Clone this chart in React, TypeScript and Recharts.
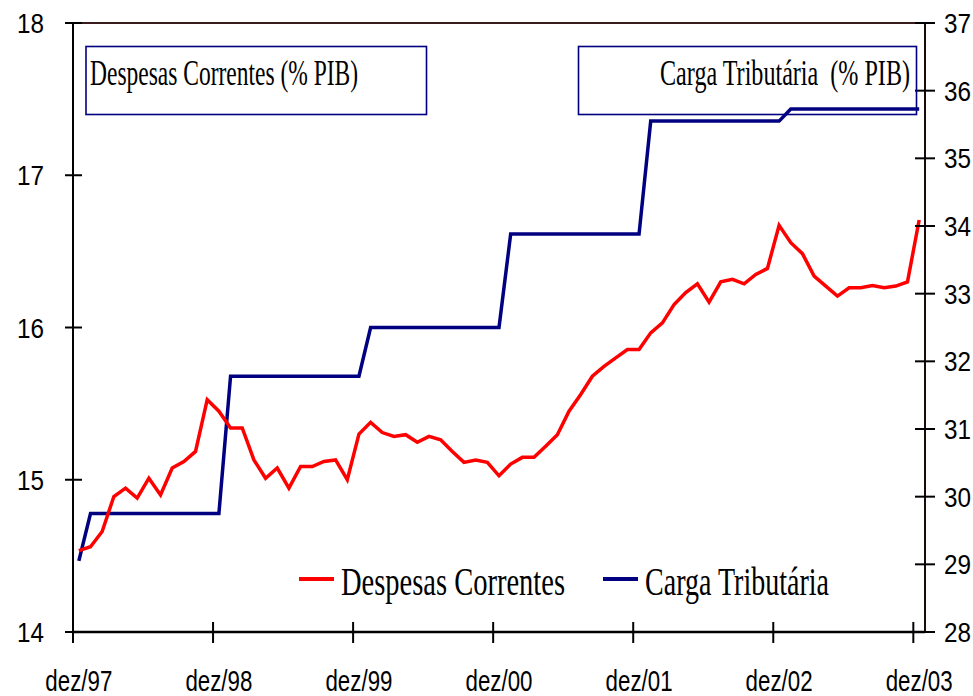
import React from 'react';
import { LineChart, Line, XAxis, YAxis, Legend, ReferenceLine } from 'recharts';

// ---- data ----
const xTickLabels = ['dez/97', 'dez/98', 'dez/99', 'dez/00', 'dez/01', 'dez/02', 'dez/03'];

const despesasCorrentes = [
  14.535, 14.56, 14.66, 14.89, 14.945, 14.88, 15.01, 14.9, 15.077, 15.12, 15.186, 15.526,
  15.45, 15.34, 15.34, 15.13, 15.01, 15.077, 14.945, 15.087, 15.087, 15.12, 15.13, 15.0,
  15.3, 15.377, 15.31, 15.285, 15.296, 15.246, 15.285, 15.263, 15.186, 15.114, 15.13, 15.114,
  15.026, 15.103, 15.147, 15.147, 15.22, 15.296, 15.45, 15.56, 15.68, 15.745, 15.8, 15.855,
  15.855, 15.965, 16.03, 16.15, 16.23, 16.287, 16.166, 16.3, 16.316, 16.287, 16.349, 16.388,
  16.671, 16.557, 16.485, 16.338, 16.272, 16.206, 16.261, 16.261, 16.276, 16.261, 16.272, 16.3,
  16.706,
];

const cargaTributaria = [
  29.05, 29.75, 29.75, 29.75, 29.75, 29.75, 29.75, 29.75, 29.75, 29.75, 29.75, 29.75,
  29.75, 31.78, 31.78, 31.78, 31.78, 31.78, 31.78, 31.78, 31.78, 31.78, 31.78, 31.78,
  31.78, 32.5, 32.5, 32.5, 32.5, 32.5, 32.5, 32.5, 32.5, 32.5, 32.5, 32.5,
  32.5, 33.88, 33.88, 33.88, 33.88, 33.88, 33.88, 33.88, 33.88, 33.88, 33.88, 33.88,
  33.88, 35.55, 35.55, 35.55, 35.55, 35.55, 35.55, 35.55, 35.55, 35.55, 35.55, 35.55,
  35.55, 35.73, 35.73, 35.73, 35.73, 35.73, 35.73, 35.73, 35.73, 35.73, 35.73, 35.73,
  35.73,
];

const leftTicks = [14, 15, 16, 17, 18];
const rightTicks = [28, 29, 30, 31, 32, 33, 34, 35, 36, 37];
const seriesNames = ['Despesas Correntes', 'Carga Tributária'];
const boxTitles = ['Despesas Correntes (% PIB)', 'Carga Tributária  (% PIB)'];

const data = despesasCorrentes.map((v, i) => ({ i, desp: v, carga: cargaTributaria[i] }));
const N = data.length;
const xTickValues = xTickLabels.map((_, k) => k * 12 - 0.5);

// ---- layout ----
const W = 973;
const H = 696;
const LEFT_W = 73;
const RIGHT_W = 48;
const TOP = 23;
const X_H = 64;
const PLOT_W = W - LEFT_W - RIGHT_W;
const HALF_BAND = PLOT_W / N / 2;
const SANS = '"Liberation Sans", Arial, sans-serif';
const SERIF = '"Liberation Serif", "Times New Roman", serif';
const RED = '#ff0000';
const NAVY = '#000080';

// Text squeezed horizontally (the reference uses narrow, tall glyphs)
const NarrowText = (p: any) => {
  const { x, y, sx, len, anchor = 'start', family, size, children, preserve } = p;
  return (
    <text transform={`translate(${x},${y}) scale(${sx},1)`} x={0} y={0} textAnchor={anchor}
      fontFamily={family} fontSize={size} fill="#000" textLength={len / sx}
      lengthAdjust="spacingAndGlyphs" {...(preserve ? { xmlSpace: 'preserve' } : {})}>
      {children}
    </text>
  );
};

const LeftTick = (props: any) => {
  const { x, y, payload } = props;
  return (
    <g>
      <line x1={x - 8} x2={x + 9} y1={y} y2={y} stroke="#000" strokeWidth={2} />
      <NarrowText x={x - 29} y={y + 10} anchor="end" sx={0.87} len={27} family={SANS} size={28}>
        {String(payload.value)}
      </NarrowText>
    </g>
  );
};

const RightTick = (props: any) => {
  const { x, y, payload } = props;
  return (
    <g>
      <line x1={x - 10} x2={x + 10} y1={y} y2={y} stroke="#000" strokeWidth={2} />
      <NarrowText x={x + 19} y={y + 10} anchor="start" sx={0.87} len={27} family={SANS} size={28}>
        {String(payload.value)}
      </NarrowText>
    </g>
  );
};

const BottomTick = (props: any) => {
  const { x, y, index } = props;
  return (
    <g>
      <line x1={x} x2={x} y1={y - 10} y2={y + 11} stroke="#000" strokeWidth={2} />
      <NarrowText x={x + HALF_BAND} y={y + 59} anchor="middle" sx={0.77} len={67} family={SANS} size={29}>
        {xTickLabels[index]}
      </NarrowText>
    </g>
  );
};

const legendLayout = [
  { lineX: 299, textX: 341, textLen: 224, sx: 0.713 },
  { lineX: 603, textX: 645, textLen: 184, sx: 0.693 },
];

const renderLegend = (props: any) => {
  const payload = props.payload || [];
  return (
    <svg width={W} height={60} style={{ display: 'block' }}>
      {payload.map((p: any, k: number) => {
        const l = legendLayout[k] || legendLayout[0];
        return (
          <g key={k}>
            <line x1={l.lineX} x2={l.lineX + 35} y1={29} y2={29} stroke={p.color} strokeWidth={4} />
            <NarrowText x={l.textX} y={45} sx={l.sx} len={l.textLen} family={SERIF} size={40}>
              {p.value}
            </NarrowText>
          </g>
        );
      })}
    </svg>
  );
};

export default function App() {
  return (
    <div style={{ position: 'absolute', left: 0, top: 0, width: W, height: H, background: '#fff', overflow: 'hidden' }}>
      <LineChart width={W} height={H} data={data} margin={{ top: TOP, right: 0, bottom: 0, left: 0 }}>
        <XAxis dataKey="i" type="number" domain={[-0.5, N - 0.5]} ticks={xTickValues} interval={0}
          height={X_H} tickSize={0} tickMargin={0} tickLine={false}
          axisLine={{ stroke: '#000', strokeWidth: 2.5 }} tick={<BottomTick />} />
        <YAxis yAxisId="left" orientation="left" domain={[14, 18]} ticks={leftTicks} interval={0}
          width={LEFT_W} tickSize={0} tickMargin={0} tickLine={false}
          axisLine={{ stroke: '#000', strokeWidth: 2 }} tick={<LeftTick />} />
        <YAxis yAxisId="right" orientation="right" domain={[28, 37]} ticks={rightTicks} interval={0}
          width={RIGHT_W} tickSize={0} tickMargin={0} tickLine={false}
          axisLine={{ stroke: '#1a0a0a', strokeWidth: 2 }} tick={<RightTick />} />
        <ReferenceLine yAxisId="left" y={18} stroke="#3a1c1c" strokeWidth={2} />
        <Line yAxisId="right" type="linear" dataKey="carga" name={seriesNames[1]} stroke={NAVY}
          strokeWidth={3.5} dot={false} activeDot={false} isAnimationActive={false} />
        <Line yAxisId="left" type="linear" dataKey="desp" name={seriesNames[0]} stroke={RED}
          strokeWidth={3.5} dot={false} activeDot={false} isAnimationActive={false} />
        <Legend verticalAlign="middle" align="center" layout="horizontal"
          wrapperStyle={{ left: 0, top: 550, width: W, height: 60 }}
          content={(p: any) => renderLegend({ payload: [...(p.payload || [])].sort((a: any, b: any) => seriesNames.indexOf(a.value) - seriesNames.indexOf(b.value)) })} />
      </LineChart>
      <svg width={W} height={H} style={{ position: 'absolute', left: 0, top: 0, pointerEvents: 'none' }}>
        <rect x={86} y={46.5} width={340.5} height={68} fill="none" stroke={NAVY} strokeWidth={1.6} />
        <NarrowText x={90} y={85} sx={0.652} len={268} family={SERIF} size={36}>{boxTitles[0]}</NarrowText>
        <rect x={578.5} y={46.5} width={338} height={68} fill="none" stroke={NAVY} strokeWidth={1.6} />
        <NarrowText x={910} y={85} anchor="end" sx={0.665} len={250} family={SERIF} size={36} preserve>
          {boxTitles[1]}
        </NarrowText>
      </svg>
    </div>
  );
}
